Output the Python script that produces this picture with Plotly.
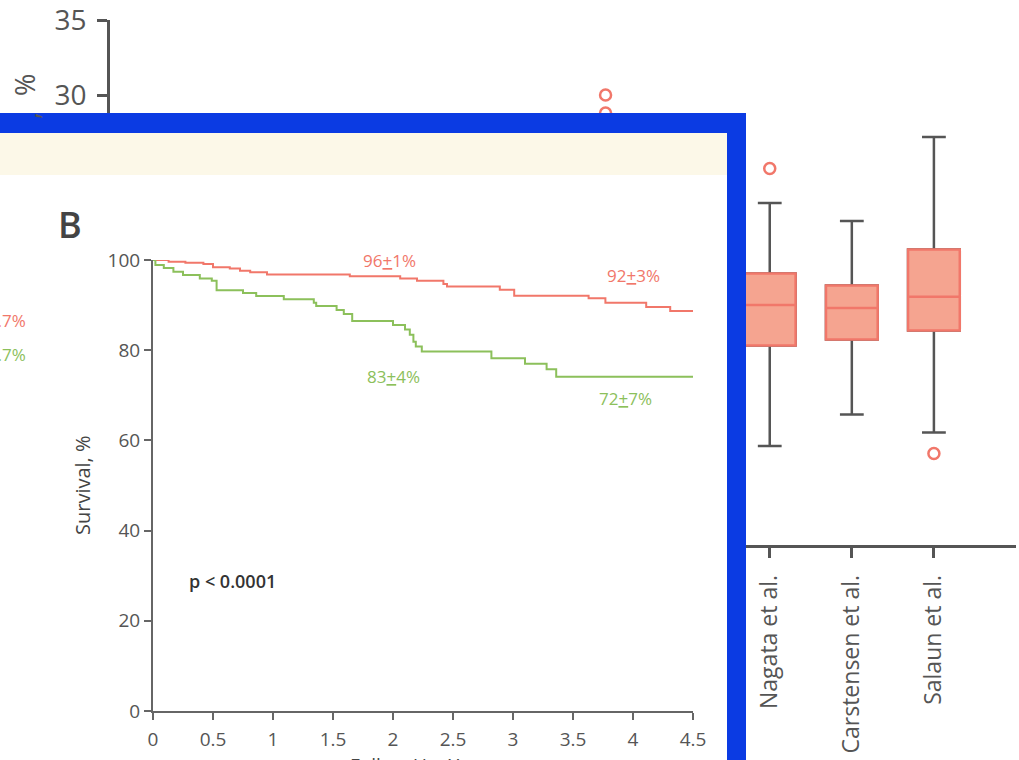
import plotly.graph_objects as go

W, H = 1019, 760
FONT = "Open Sans"

# ---------------- background chart (box plots, partly hidden) ----------------
studies = ["Nagata et al.", "Carstensen et al.", "Salaun et al."]
study_index = [7, 8, 9]
box_lower = [6.6, 8.7, 7.5]
box_q1 = [13.3, 13.7, 14.3]
box_median = [16.0, 15.8, 16.55]
box_q3 = [18.1, 17.3, 19.7]
box_upper = [22.8, 21.6, 27.2]
outlier_index = [7, 9, 5, 5]
outlier_value = [25.1, 6.1, 30.0, 28.8]

# ---------------- panel B: Kaplan-Meier curves ----------------
red_t = [0, 0.13, 0.27, 0.42, 0.50, 0.64, 0.725, 0.81, 0.95, 1.64, 2.06,
         2.20, 2.42, 2.45, 2.89, 3.01, 3.63, 3.77, 4.11, 4.31, 4.5]
red_s = [100, 99.6, 99.4, 99.1, 98.4, 98.1, 97.6, 97.3, 96.8, 96.4, 95.9,
         95.4, 94.7, 94.1, 93.4, 92.1, 91.5, 90.5, 89.6, 88.7, 88.7]
green_t = [0, 0.02, 0.09, 0.17, 0.25, 0.39, 0.49, 0.53, 0.75, 0.86, 1.09,
           1.34, 1.36, 1.53, 1.59, 1.66, 2.0, 2.1, 2.14, 2.17, 2.19, 2.24,
           2.82, 3.1, 3.28, 3.36, 4.5]
green_s = [100, 98.9, 98.2, 97.4, 96.7, 95.9, 95.4, 93.3, 92.7, 92.0, 91.3,
           90.5, 89.8, 88.9, 88.0, 86.5, 85.6, 84.6, 83.4, 81.9, 80.8, 79.7,
           78.2, 77.0, 75.8, 74.1, 74.1]
km_xticks = [0, 0.5, 1, 1.5, 2, 2.5, 3, 3.5, 4, 4.5]
km_yticks = [0, 20, 40, 60, 80, 100]
group_labels = ["LV GLS &gt;14.7%", "LV GLS <u>&lt;</u>14.7%"]
rate_labels = ["96<u>+</u>1%", "92<u>+</u>3%", "83<u>+</u>4%", "72<u>+</u>7%"]

RED = "#F1776A"
GREEN = "#8CC05B"
SALMON_FILL = "#F5A490"
GRAY = "#555555"

def px_x(p):
    return p / W

def px_y(q):
    return 1 - q / H

fig = go.Figure()

# whiskers (gray)
fig.add_trace(go.Box(
    x=study_index, q1=box_q1, median=box_median, q3=box_q3,
    lowerfence=box_lower, upperfence=box_upper,
    width=0.63, whiskerwidth=0.46,
    line=dict(color=GRAY, width=2.5), fillcolor="rgba(0,0,0,0)",
    boxpoints=False, xaxis="x", yaxis="y", hoverinfo="skip"))
# colored boxes
fig.add_trace(go.Box(
    x=study_index, q1=box_q1, median=box_median, q3=box_q3,
    lowerfence=box_q1, upperfence=box_q3,
    width=0.63, whiskerwidth=0,
    line=dict(color=RED, width=2.5), fillcolor=SALMON_FILL,
    boxpoints=False, xaxis="x", yaxis="y", hoverinfo="skip"))
fig.add_trace(go.Scatter(
    x=outlier_index, y=outlier_value, mode="markers",
    marker=dict(symbol="circle-open", size=11, color=RED, line=dict(width=2.5)),
    xaxis="x", yaxis="y", hoverinfo="skip"))

# panel layer (empty subplot used to host the panel background shapes)
fig.add_trace(go.Scatter(x=[], y=[], xaxis="x2", yaxis="y2", hoverinfo="skip"))

# KM curves
fig.add_trace(go.Scatter(x=red_t, y=red_s, mode="lines", line=dict(color=RED, width=2, shape="hv"),
                         xaxis="x3", yaxis="y3", cliponaxis=False, hoverinfo="skip"))
fig.add_trace(go.Scatter(x=green_t, y=green_s, mode="lines", line=dict(color=GREEN, width=2, shape="hv"),
                         xaxis="x3", yaxis="y3", cliponaxis=False, hoverinfo="skip"))

axis_common = dict(showgrid=False, zeroline=False, automargin=False)

fig.update_layout(
    width=W, height=H, margin=dict(l=0, r=0, t=0, b=0, autoexpand=False),
    paper_bgcolor="white", plot_bgcolor="rgba(0,0,0,0)", showlegend=False,
    boxmode="overlay",
    xaxis=dict(domain=[px_x(110), px_x(1016)], range=[-1.037, 10.0], anchor="y",
               tickmode="array", tickvals=study_index, ticktext=studies, tickangle=-90,
               ticks="outside", ticklen=10, tickwidth=2.5, tickcolor=GRAY,
               showline=True, linecolor=GRAY, linewidth=2.5, ticklabelstandoff=8,
               tickfont=dict(family=FONT, size=23, color=GRAY), **axis_common),
    yaxis=dict(domain=[px_y(545), px_y(20)], range=[0, 35], anchor="x", dtick=5,
               ticks="outside", ticklen=10, tickwidth=2.5, tickcolor=GRAY,
               showline=True, linecolor=GRAY, linewidth=2.5, ticklabelstandoff=5,
               ticklabeloverflow="allow",
               tickfont=dict(family=FONT, size=28, color=GRAY), **axis_common),
    xaxis2=dict(domain=[0, px_x(746)], range=[0, 746], anchor="y2", visible=False, **axis_common),
    yaxis2=dict(domain=[0, px_y(113)], range=[760, 113], anchor="x2", visible=False, **axis_common),
    xaxis3=dict(domain=[px_x(153), px_x(693)], range=[0, 4.5], anchor="y3",
                tickmode="array", tickvals=km_xticks, ticktext=[str(v) for v in km_xticks],
                ticks="outside", ticklen=7, tickwidth=2, tickcolor="#666",
                showline=True, linecolor="#666", linewidth=2, ticklabelstandoff=3,
                tickfont=dict(family=FONT, size=19, color=GRAY), **axis_common),
    yaxis3=dict(domain=[px_y(711), px_y(260)], range=[0, 100], anchor="x3",
                tickmode="array", tickvals=km_yticks,
                ticks="outside", ticklen=7, tickwidth=2, tickcolor="#666",
                showline=True, linecolor="#666", linewidth=2,
                tickfont=dict(family=FONT, size=19, color=GRAY), **axis_common),
)

# panel background shapes (in the panel subplot, drawn above the background chart)
fig.add_shape(type="rect", xref="x2", yref="y2", x0=-5, x1=746, y0=113, y1=800,
              fillcolor="#0B3BE3", line=dict(width=0), layer="below")
fig.add_shape(type="rect", xref="x2", yref="y2", x0=-5, x1=727, y0=133, y1=800,
              fillcolor="white", line=dict(width=0), layer="below")
fig.add_shape(type="rect", xref="x2", yref="y2", x0=-5, x1=727, y0=133, y1=175,
              fillcolor="#FCF8E8", line=dict(width=0), layer="below")

ann = []
# background chart y title fragments (rest hidden behind the panel)
ann.append(dict(text="%", x=px_x(25), y=px_y(85), xref="paper", yref="paper",
                xanchor="center", yanchor="middle",
                textangle=-90, showarrow=False, font=dict(family=FONT, size=27, color=GRAY)))
ann.append(dict(text=",", x=px_x(27), y=px_y(116), xref="paper", yref="paper",
                xanchor="center", yanchor="middle",
                textangle=-90, showarrow=False, font=dict(family=FONT, size=27, color=GRAY)))
# panel A legend fragments on the left
ann.append(dict(text=group_labels[0], x=px_x(28), y=px_y(320), xref="paper", yref="paper",
                xanchor="right", showarrow=False, font=dict(family=FONT, size=17, color=RED)))
ann.append(dict(text=group_labels[1], x=px_x(28), y=px_y(355), xref="paper", yref="paper",
                xanchor="right", showarrow=False, font=dict(family=FONT, size=17, color=GREEN)))
# panel letter
ann.append(dict(text="B", x=px_x(70), y=px_y(224), xref="paper", yref="paper",
                xanchor="center", yanchor="middle",
                showarrow=False, font=dict(family=FONT, size=36, color="#444", weight=600)))
# KM axis titles
ann.append(dict(text="Survival, %", x=px_x(82), y=px_y(485), xref="paper", yref="paper",
                xanchor="center", yanchor="middle", textangle=-90,
                showarrow=False, font=dict(family=FONT, size=20, color="#444")))
ann.append(dict(text="Follow-Up, Years", x=px_x(423), y=px_y(750), xref="paper", yref="paper",
                xanchor="center", yanchor="top",
                showarrow=False, font=dict(family=FONT, size=19, color="#444")))
ann.append(dict(text="p < 0.0001", x=0.28, y=28.8, xref="x3", yref="y3", xanchor="left",
                showarrow=False, font=dict(family=FONT, size=18, color="#333", weight=600)))
# curve labels
ann.append(dict(text=rate_labels[0], x=1.97, y=99.8, xref="x3", yref="y3",
                showarrow=False, font=dict(family=FONT, size=17, color=RED)))
ann.append(dict(text=rate_labels[1], x=4.0, y=96.5, xref="x3", yref="y3",
                showarrow=False, font=dict(family=FONT, size=17, color=RED)))
ann.append(dict(text=group_labels[0], x=4.59, y=85.6, xref="x3", yref="y3", xanchor="right",
                showarrow=False, font=dict(family=FONT, size=17, color=RED)))
ann.append(dict(text=group_labels[1], x=4.575, y=77.6, xref="x3", yref="y3", xanchor="right",
                showarrow=False, font=dict(family=FONT, size=17, color=GREEN)))
ann.append(dict(text=rate_labels[2], x=2.0, y=74.1, xref="x3", yref="y3",
                showarrow=False, font=dict(family=FONT, size=17, color=GREEN)))
ann.append(dict(text=rate_labels[3], x=3.94, y=69.4, xref="x3", yref="y3",
                showarrow=False, font=dict(family=FONT, size=17, color=GREEN)))
fig.update_layout(annotations=ann)

fig.write_html("out.html")
